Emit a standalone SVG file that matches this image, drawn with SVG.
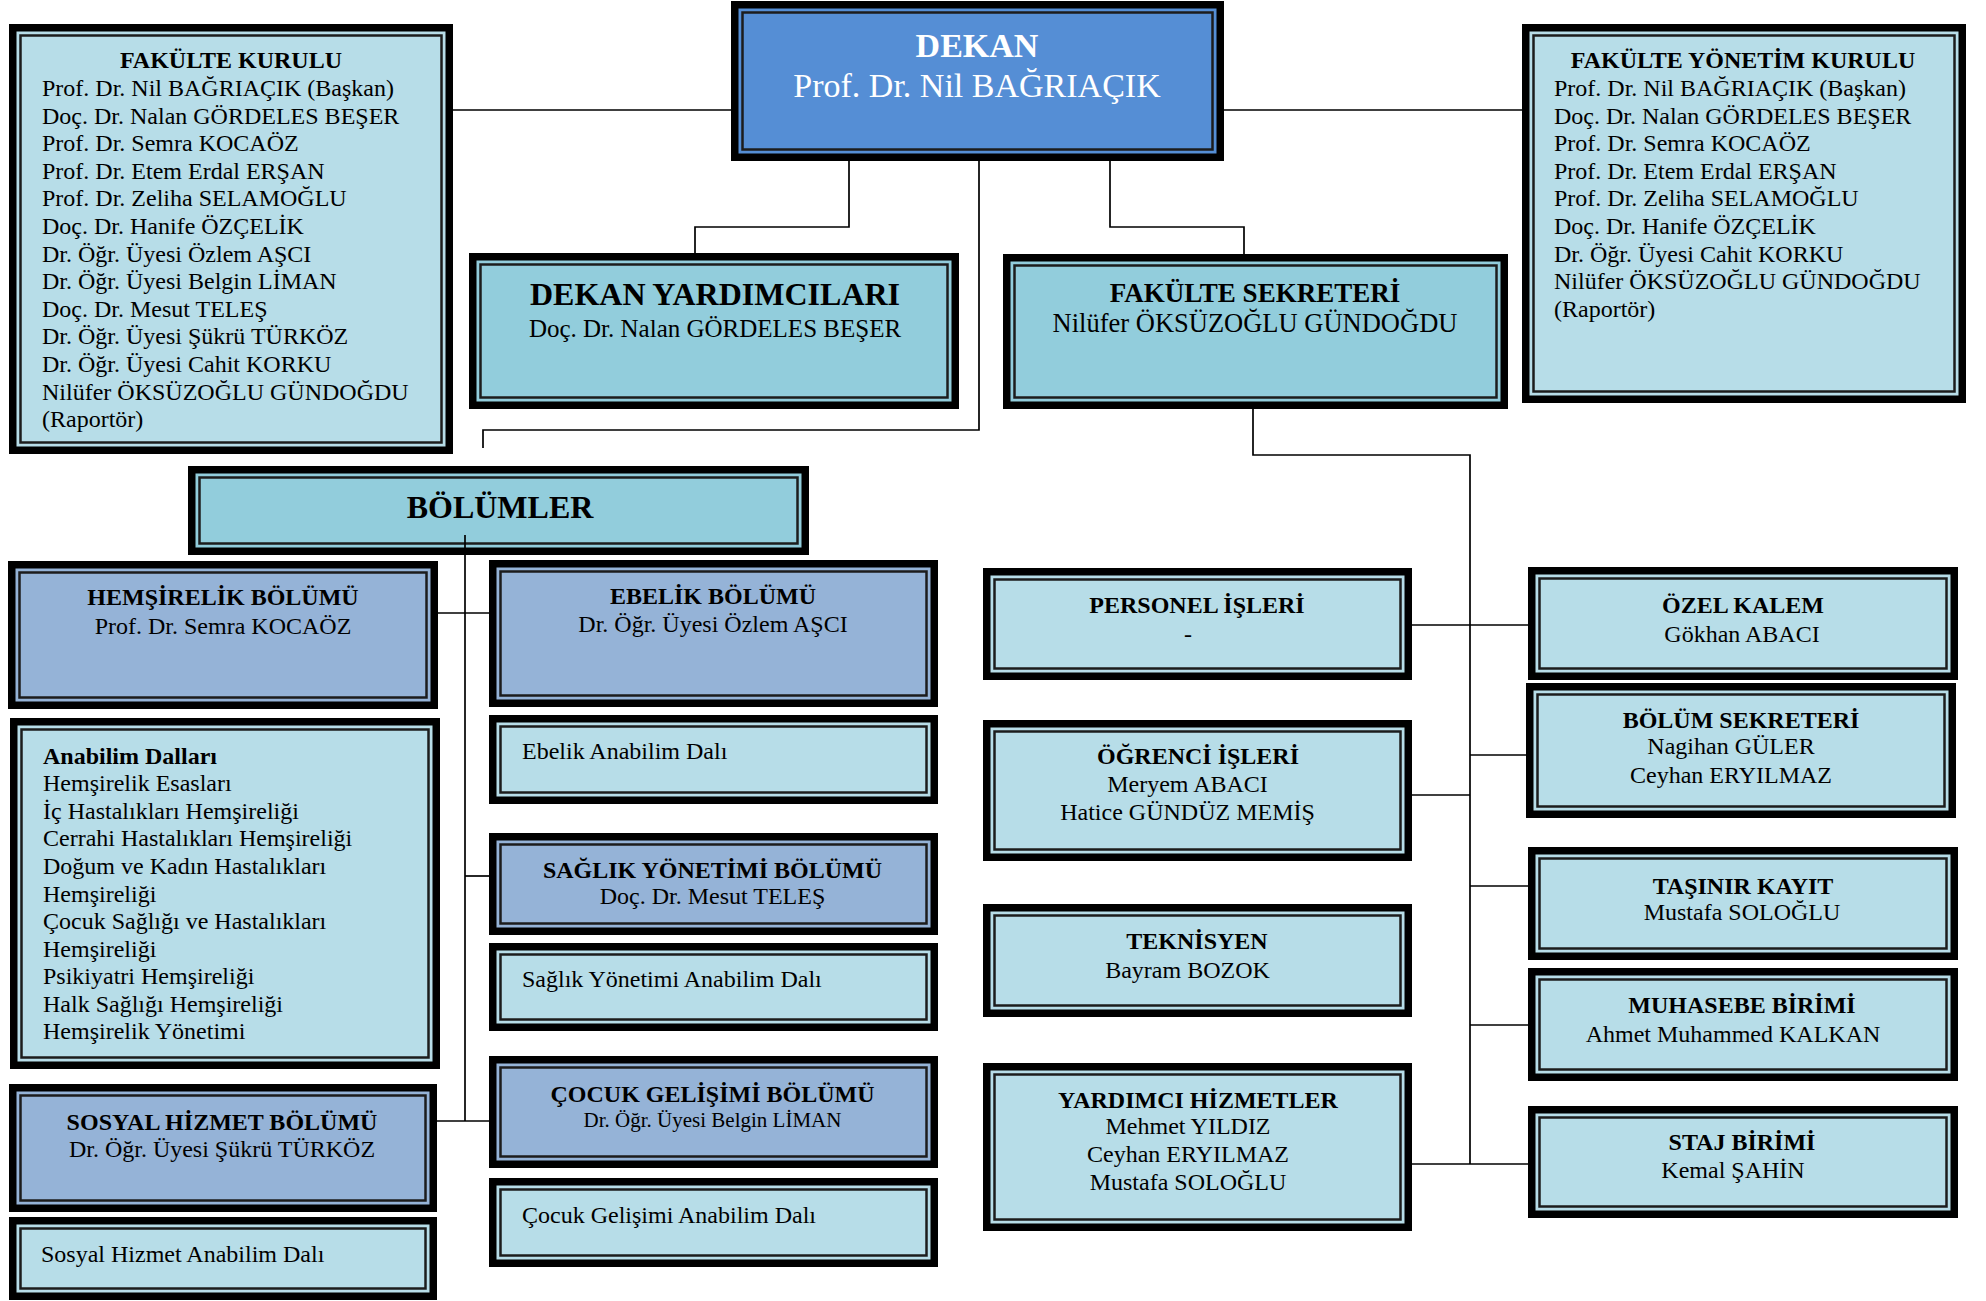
<svg xmlns="http://www.w3.org/2000/svg" width="1986" height="1301" viewBox="0 0 1986 1301">
<style>
.o{fill:#000}
.la{fill:#b7dde8}
.aq{fill:#92cddc}
.bl{fill:#95b3d7}
.dk{fill:#558ed5}
.ln{fill:none;stroke:#1c1c1c;stroke-width:2.5}
text{font-family:"Liberation Serif","Times New Roman",serif;font-size:24px;fill:#000}
.b{font-weight:bold}
.c{text-anchor:middle}
.w{fill:#fff}
.con{fill:none;stroke:#000;stroke-width:1.7}
</style>
<rect width="1986" height="1301" fill="#fff"/>

<g id="fakulte-kurulu">
<rect class="o" x="9" y="24" width="444" height="430"/>
<rect class="la" x="16.5" y="31.5" width="429" height="415"/>
<rect class="ln" x="20.5" y="35.5" width="421" height="407"/>
<text class="b c" x="231" y="68">FAKÜLTE KURULU</text>
<text x="42" y="96">Prof. Dr. Nil BAĞRIAÇIK (Başkan)</text>
<text x="42" y="123.6">Doç. Dr. Nalan GÖRDELES BEŞER</text>
<text x="42" y="151.2">Prof. Dr. Semra KOCAÖZ</text>
<text x="42" y="178.8">Prof. Dr. Etem Erdal ERŞAN</text>
<text x="42" y="206.4">Prof. Dr. Zeliha SELAMOĞLU</text>
<text x="42" y="234">Doç. Dr. Hanife ÖZÇELİK</text>
<text x="42" y="261.6">Dr. Öğr. Üyesi Özlem AŞCI</text>
<text x="42" y="289.2">Dr. Öğr. Üyesi Belgin LİMAN</text>
<text x="42" y="316.8">Doç. Dr. Mesut TELEŞ</text>
<text x="42" y="344.4">Dr. Öğr. Üyesi Şükrü TÜRKÖZ</text>
<text x="42" y="372">Dr. Öğr. Üyesi Cahit KORKU</text>
<text x="42" y="399.6">Nilüfer ÖKSÜZOĞLU GÜNDOĞDU</text>
<text x="42" y="427.2">(Raportör)</text>
</g>

<g id="dekan">
<rect class="o" x="731" y="1" width="493" height="160"/>
<rect class="dk" x="738.5" y="8.5" width="478" height="145"/>
<rect class="ln" x="742.5" y="12.5" width="470" height="137"/>
<text class="b c w" x="977" y="57" style="font-size:34px">DEKAN</text>
<text class="c w" x="977" y="97" style="font-size:34px">Prof. Dr. Nil BAĞRIAÇIK</text>
</g>

<g id="fakulte-yonetim-kurulu">
<rect class="o" x="1522" y="24" width="444" height="379"/>
<rect class="la" x="1529.5" y="31.5" width="429" height="364"/>
<rect class="ln" x="1533.5" y="35.5" width="421" height="356"/>
<text class="b c" x="1743" y="68">FAKÜLTE YÖNETİM KURULU</text>
<text x="1554" y="96">Prof. Dr. Nil BAĞRIAÇIK (Başkan)</text>
<text x="1554" y="123.6">Doç. Dr. Nalan GÖRDELES BEŞER</text>
<text x="1554" y="151.2">Prof. Dr. Semra KOCAÖZ</text>
<text x="1554" y="178.8">Prof. Dr. Etem Erdal ERŞAN</text>
<text x="1554" y="206.4">Prof. Dr. Zeliha SELAMOĞLU</text>
<text x="1554" y="234">Doç. Dr. Hanife ÖZÇELİK</text>
<text x="1554" y="261.6">Dr. Öğr. Üyesi Cahit KORKU</text>
<text x="1554" y="289.2">Nilüfer ÖKSÜZOĞLU GÜNDOĞDU</text>
<text x="1554" y="316.8">(Raportör)</text>
</g>

<g id="dekan-yardimcilari">
<rect class="o" x="469" y="253" width="490" height="156"/>
<rect class="aq" x="476.5" y="260.5" width="475" height="141"/>
<rect class="ln" x="480.5" y="264.5" width="467" height="133"/>
<text class="b c" x="715" y="305" style="font-size:32px">DEKAN YARDIMCILARI</text>
<text class="c" x="715" y="337" style="font-size:25px">Doç. Dr. Nalan GÖRDELES BEŞER</text>
</g>

<g id="fakulte-sekreteri">
<rect class="o" x="1003" y="254" width="505" height="155"/>
<rect class="aq" x="1010.5" y="261.5" width="490" height="140"/>
<rect class="ln" x="1014.5" y="265.5" width="482" height="132"/>
<text class="b c" x="1255" y="302" style="font-size:27px">FAKÜLTE SEKRETERİ</text>
<text class="c" x="1255" y="332" style="font-size:26.5px">Nilüfer ÖKSÜZOĞLU GÜNDOĞDU</text>
</g>

<g id="bolumler">
<rect class="o" x="188" y="466" width="621" height="89"/>
<rect class="aq" x="195.5" y="473.5" width="606" height="74"/>
<rect class="ln" x="199.5" y="477.5" width="598" height="66"/>
<text class="b c" x="500" y="518" style="font-size:32px">BÖLÜMLER</text>
</g>

<g id="hemsirelik-bolumu">
<rect class="o" x="8" y="561" width="430" height="148"/>
<rect class="bl" x="15.5" y="568.5" width="415" height="133"/>
<rect class="ln" x="19.5" y="572.5" width="407" height="125"/>
<text class="b c" x="223" y="605.4">HEMŞİRELİK BÖLÜMÜ</text>
<text class="c" x="223" y="633.7">Prof. Dr. Semra KOCAÖZ</text>
</g>

<g id="hemsirelik-anabilim-dallari">
<rect class="o" x="10" y="718" width="430" height="351"/>
<rect class="la" x="17.5" y="725.5" width="415" height="336"/>
<rect class="ln" x="21.5" y="729.5" width="407" height="328"/>
<text class="b" x="43" y="763.8">Anabilim Dalları</text>
<text x="43" y="791.3">Hemşirelik Esasları</text>
<text x="43" y="818.9">İç Hastalıkları Hemşireliği</text>
<text x="43" y="846.4">Cerrahi Hastalıkları Hemşireliği</text>
<text x="43" y="874">Doğum ve Kadın Hastalıkları</text>
<text x="43" y="901.5">Hemşireliği</text>
<text x="43" y="929">Çocuk Sağlığı ve Hastalıkları</text>
<text x="43" y="956.6">Hemşireliği</text>
<text x="43" y="984">Psikiyatri Hemşireliği</text>
<text x="43" y="1011.7">Halk Sağlığı Hemşireliği</text>
<text x="43" y="1039.2">Hemşirelik Yönetimi</text>
</g>

<g id="sosyal-hizmet-bolumu">
<rect class="o" x="9" y="1084" width="428" height="128"/>
<rect class="bl" x="16.5" y="1091.5" width="413" height="113"/>
<rect class="ln" x="20.5" y="1095.5" width="405" height="105"/>
<text class="b c" x="222" y="1130">SOSYAL HİZMET BÖLÜMÜ</text>
<text class="c" x="222" y="1156.7">Dr. Öğr. Üyesi Şükrü TÜRKÖZ</text>
</g>

<g id="sosyal-hizmet-abd">
<rect class="o" x="9" y="1217" width="428" height="83"/>
<rect class="la" x="16.5" y="1224.5" width="413" height="68"/>
<rect class="ln" x="20.5" y="1228.5" width="405" height="60"/>
<text x="41" y="1261.7">Sosyal Hizmet Anabilim Dalı</text>
</g>

<g id="ebelik-bolumu">
<rect class="o" x="489" y="560" width="449" height="147"/>
<rect class="bl" x="496.5" y="567.5" width="434" height="132"/>
<rect class="ln" x="500.5" y="571.5" width="426" height="124"/>
<text class="b c" x="713" y="604.3">EBELİK BÖLÜMÜ</text>
<text class="c" x="713" y="632">Dr. Öğr. Üyesi Özlem AŞCI</text>
</g>

<g id="ebelik-abd">
<rect class="o" x="489" y="715" width="449" height="89"/>
<rect class="la" x="496.5" y="722.5" width="434" height="74"/>
<rect class="ln" x="500.5" y="726.5" width="426" height="66"/>
<text x="522" y="758.6">Ebelik Anabilim Dalı</text>
</g>

<g id="saglik-yonetimi-bolumu">
<rect class="o" x="489" y="833" width="449" height="102"/>
<rect class="bl" x="496.5" y="840.5" width="434" height="87"/>
<rect class="ln" x="500.5" y="844.5" width="426" height="79"/>
<text class="b c" x="712.5" y="877.5">SAĞLIK YÖNETİMİ BÖLÜMÜ</text>
<text class="c" x="712.5" y="904.3">Doç. Dr. Mesut TELEŞ</text>
</g>

<g id="saglik-yonetimi-abd">
<rect class="o" x="489" y="943" width="449" height="88"/>
<rect class="la" x="496.5" y="950.5" width="434" height="73"/>
<rect class="ln" x="500.5" y="954.5" width="426" height="65"/>
<text x="522" y="987">Sağlık Yönetimi Anabilim Dalı</text>
</g>

<g id="cocuk-gelisimi-bolumu">
<rect class="o" x="489" y="1056" width="449" height="112"/>
<rect class="bl" x="496.5" y="1063.5" width="434" height="97"/>
<rect class="ln" x="500.5" y="1067.5" width="426" height="89"/>
<text class="b c" x="712.5" y="1101.7">ÇOCUK GELİŞİMİ BÖLÜMÜ</text>
<text class="c" x="712.5" y="1126.7" style="font-size:21px">Dr. Öğr. Üyesi Belgin LİMAN</text>
</g>

<g id="cocuk-gelisimi-abd">
<rect class="o" x="489" y="1178" width="449" height="89"/>
<rect class="la" x="496.5" y="1185.5" width="434" height="74"/>
<rect class="ln" x="500.5" y="1189.5" width="426" height="66"/>
<text x="522" y="1223.3">Çocuk Gelişimi Anabilim Dalı</text>
</g>

<g id="personel-isleri">
<rect class="o" x="983" y="568" width="429" height="112"/>
<rect class="la" x="990.5" y="575.5" width="414" height="97"/>
<rect class="ln" x="994.5" y="579.5" width="406" height="89"/>
<text class="b c" x="1197" y="613.2">PERSONEL İŞLERİ</text>
<text class="c" x="1188" y="641.8">-</text>
</g>

<g id="ogrenci-isleri">
<rect class="o" x="983" y="720" width="429" height="141"/>
<rect class="la" x="990.5" y="727.5" width="414" height="126"/>
<rect class="ln" x="994.5" y="731.5" width="406" height="118"/>
<text class="b c" x="1198" y="764.3">ÖĞRENCİ İŞLERİ</text>
<text class="c" x="1187.5" y="791.8">Meryem ABACI</text>
<text class="c" x="1187.5" y="819.6">Hatice GÜNDÜZ MEMİŞ</text>
</g>

<g id="teknisyen">
<rect class="o" x="983" y="904" width="429" height="113"/>
<rect class="la" x="990.5" y="911.5" width="414" height="98"/>
<rect class="ln" x="994.5" y="915.5" width="406" height="90"/>
<text class="b c" x="1197" y="949">TEKNİSYEN</text>
<text class="c" x="1187.5" y="977.5">Bayram BOZOK</text>
</g>

<g id="yardimci-hizmetler">
<rect class="o" x="983" y="1063" width="429" height="168"/>
<rect class="la" x="990.5" y="1070.5" width="414" height="153"/>
<rect class="ln" x="994.5" y="1074.5" width="406" height="145"/>
<text class="b c" x="1198" y="1108.3">YARDIMCI HİZMETLER</text>
<text class="c" x="1188" y="1134">Mehmet YILDIZ</text>
<text class="c" x="1188" y="1162">Ceyhan ERYILMAZ</text>
<text class="c" x="1188" y="1190">Mustafa SOLOĞLU</text>
</g>

<g id="ozel-kalem">
<rect class="o" x="1528" y="567" width="430" height="113"/>
<rect class="la" x="1535.5" y="574.5" width="415" height="98"/>
<rect class="ln" x="1539.5" y="578.5" width="407" height="90"/>
<text class="b c" x="1743" y="613.2">ÖZEL KALEM</text>
<text class="c" x="1742" y="641.8">Gökhan ABACI</text>
</g>

<g id="bolum-sekreteri">
<rect class="o" x="1526" y="683" width="430" height="135"/>
<rect class="la" x="1533.5" y="690.5" width="415" height="120"/>
<rect class="ln" x="1537.5" y="694.5" width="407" height="112"/>
<text class="b c" x="1741" y="727.5">BÖLÜM SEKRETERİ</text>
<text class="c" x="1731" y="754.3">Nagihan GÜLER</text>
<text class="c" x="1731" y="782.9">Ceyhan ERYILMAZ</text>
</g>

<g id="tasinir-kayit">
<rect class="o" x="1528" y="847" width="430" height="113"/>
<rect class="la" x="1535.5" y="854.5" width="415" height="98"/>
<rect class="ln" x="1539.5" y="858.5" width="407" height="90"/>
<text class="b c" x="1743" y="893.6">TAŞINIR KAYIT</text>
<text class="c" x="1742" y="920.4">Mustafa SOLOĞLU</text>
</g>

<g id="muhasebe-birimi">
<rect class="o" x="1528" y="968" width="430" height="113"/>
<rect class="la" x="1535.5" y="975.5" width="415" height="98"/>
<rect class="ln" x="1539.5" y="979.5" width="407" height="90"/>
<text class="b c" x="1742" y="1013.2">MUHASEBE BİRİMİ</text>
<text class="c" x="1733" y="1041.8">Ahmet Muhammed KALKAN</text>
</g>

<g id="staj-birimi">
<rect class="o" x="1528" y="1106" width="430" height="112"/>
<rect class="la" x="1535.5" y="1113.5" width="415" height="97"/>
<rect class="ln" x="1539.5" y="1117.5" width="407" height="89"/>
<text class="b c" x="1742" y="1150">STAJ BİRİMİ</text>
<text class="c" x="1733" y="1178.3">Kemal ŞAHİN</text>
</g>

<g id="connectors" class="con">
<path d="M453 110H731"/>
<path d="M1224 110H1522"/>
<path d="M849 161V227H695V253"/>
<path d="M979 161V430H483V448"/>
<path d="M1110 161V227H1244V254"/>
<path d="M1253 409V455H1470V1164"/>
<path d="M1412 625H1528"/>
<path d="M1470 755H1526"/>
<path d="M1412 795H1470"/>
<path d="M1470 886H1528"/>
<path d="M1470 1025H1528"/>
<path d="M1412 1164H1528"/>
<path d="M465 535V1121"/>
<path d="M438 613H489"/>
<path d="M465 876H489"/>
<path d="M437 1121H489"/>
</g>
</svg>
